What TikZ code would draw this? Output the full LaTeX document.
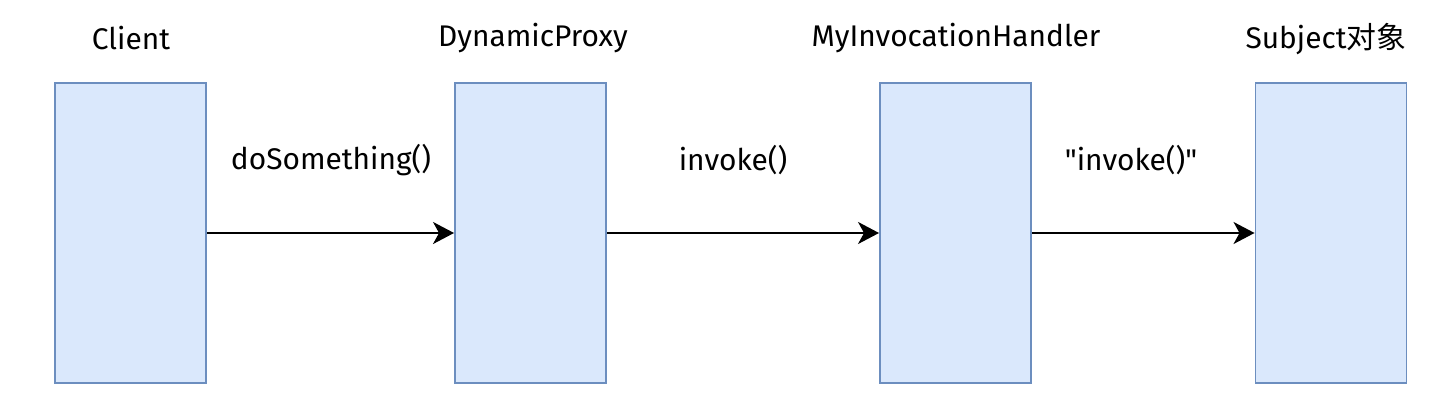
\documentclass[tikz,border=0pt]{standalone}
\usepackage{fontspec}
\setmainfont{Fira Sans}[Ligatures=TeXOff]
\newfontfamily\cjk{Noto Sans CJK SC}
\usetikzlibrary{arrows.meta}
\definecolor{boxfill}{HTML}{DAE8FC}
\definecolor{boxline}{HTML}{6C8EBF}
\tikzset{
  lifebox/.style={draw=boxline, fill=boxfill, line width=1.1pt, minimum width=3.02cm, minimum height=6cm, inner sep=0pt},
  call/.style={line width=1.1pt, -{Stealth[length=0.42cm,width=0.44cm,inset=0.12cm]}},
  lbl/.style={font=\fontsize{17}{20}\selectfont}
}
\begin{document}
\begin{tikzpicture}
\useasboundingbox (0,0) rectangle (29.04,-8.24);
\node[lifebox] (client) at (2.61,-4.66) {};
\node[lifebox] (proxy) at (10.61,-4.66) {};
\node[lifebox] (handler) at (19.11,-4.66) {};
\node[lifebox] (subject) at (26.62,-4.66) {};
\node[lbl] (clientname) at (2.62,-0.76) {Client};
\node[lbl] (proxyname) at (10.66,-0.76) {DynamicProxy};
\node[lbl] (handlername) at (19.12,-0.76) {MyInvocationHandler};
\node[lbl] (subjectname) at (26.52,-0.78) {Subject{\cjk 对象}};
\draw[call] (client) -- (proxy);
\draw[call] (proxy) -- (handler);
\draw[call] (handler) -- (subject);
\node[lbl] (call1) at (6.62,-3.2) {doSomething()};
\node[lbl] (call2) at (14.66,-3.2) {invoke()};
\node[lbl] (call3) at (22.62,-3.2) {"invoke()"};
\end{tikzpicture}
\end{document}
